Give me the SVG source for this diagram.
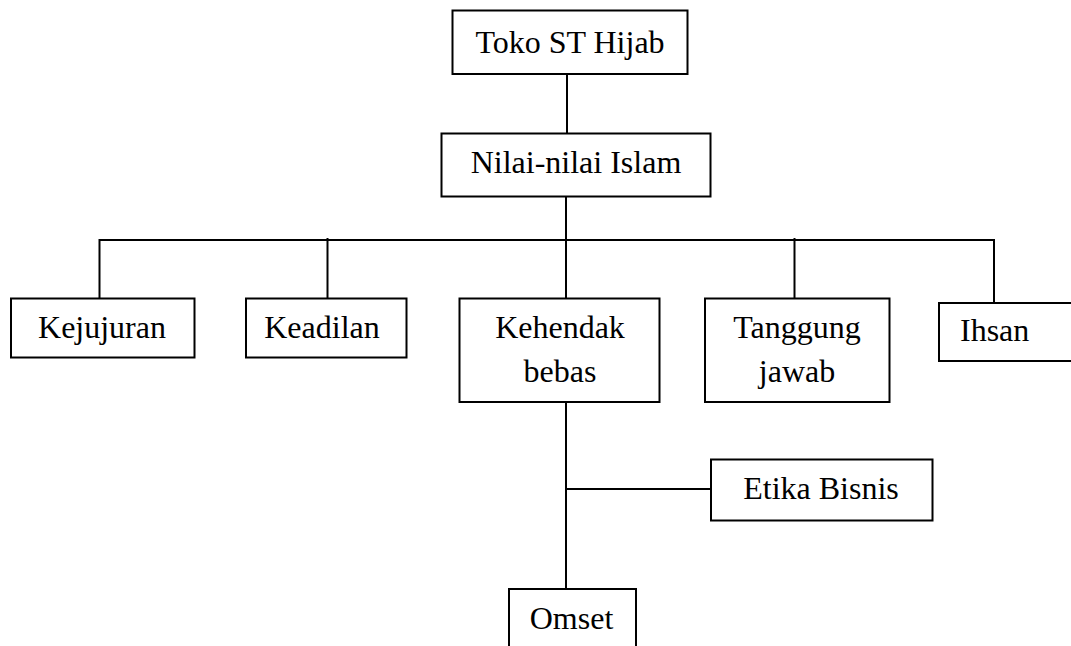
<svg xmlns="http://www.w3.org/2000/svg" width="1071" height="646" viewBox="0 0 1071 646">
<style>
rect{fill:#fff;stroke:#000;stroke-width:2}
line{stroke:#000;stroke-width:2}
text{font-size:32px;fill:#000;text-anchor:middle}
</style>
<rect x="0" y="0" width="1071" height="646" style="stroke:none"/>
<g id="connectors">
<line x1="567" y1="74" x2="567" y2="133"/>
<line x1="566" y1="196" x2="566" y2="298"/>
<line x1="99" y1="240" x2="994" y2="240"/>
<line x1="99.5" y1="239" x2="99.5" y2="298"/>
<line x1="327.5" y1="238" x2="327.5" y2="298"/>
<line x1="794.5" y1="238" x2="794.5" y2="298"/>
<line x1="994" y1="239" x2="994" y2="303"/>
<line x1="566" y1="402" x2="566" y2="589"/>
<line x1="566" y1="489" x2="711" y2="489"/>
</g>
<g font-family="Liberation Serif, Tinos, Times New Roman, DejaVu Serif, serif">
<g id="toko"><rect x="452.5" y="10.5" width="235" height="63.5"/><text x="570" y="53">Toko ST Hijab</text></g>
<g id="nilai"><rect x="441.5" y="133.5" width="269" height="63"/><text x="576" y="173">Nilai-nilai Islam</text></g>
<g id="kejujuran"><rect x="11" y="298.5" width="183.5" height="59"/><text x="102" y="338">Kejujuran</text></g>
<g id="keadilan"><rect x="246" y="298.5" width="160.5" height="59"/><text x="322" y="338">Keadilan</text></g>
<g id="kehendak"><rect x="459.5" y="298.5" width="200" height="103.5"/><text x="560" y="338">Kehendak</text><text x="560" y="381.5">bebas</text></g>
<g id="tanggung"><rect x="705" y="298.5" width="184.5" height="103.5"/><text x="797" y="338">Tanggung</text><text x="797" y="381.5">jawab</text></g>
<g id="ihsan"><rect x="939" y="303" width="140" height="58"/><text x="960" y="340.5" style="text-anchor:start">Ihsan</text></g>
<g id="etika"><rect x="711" y="459.5" width="221.5" height="61"/><text x="821" y="499">Etika Bisnis</text></g>
<g id="omset"><rect x="509" y="589" width="127" height="70"/><text x="571.5" y="628.5">Omset</text></g>
</g>
</svg>
